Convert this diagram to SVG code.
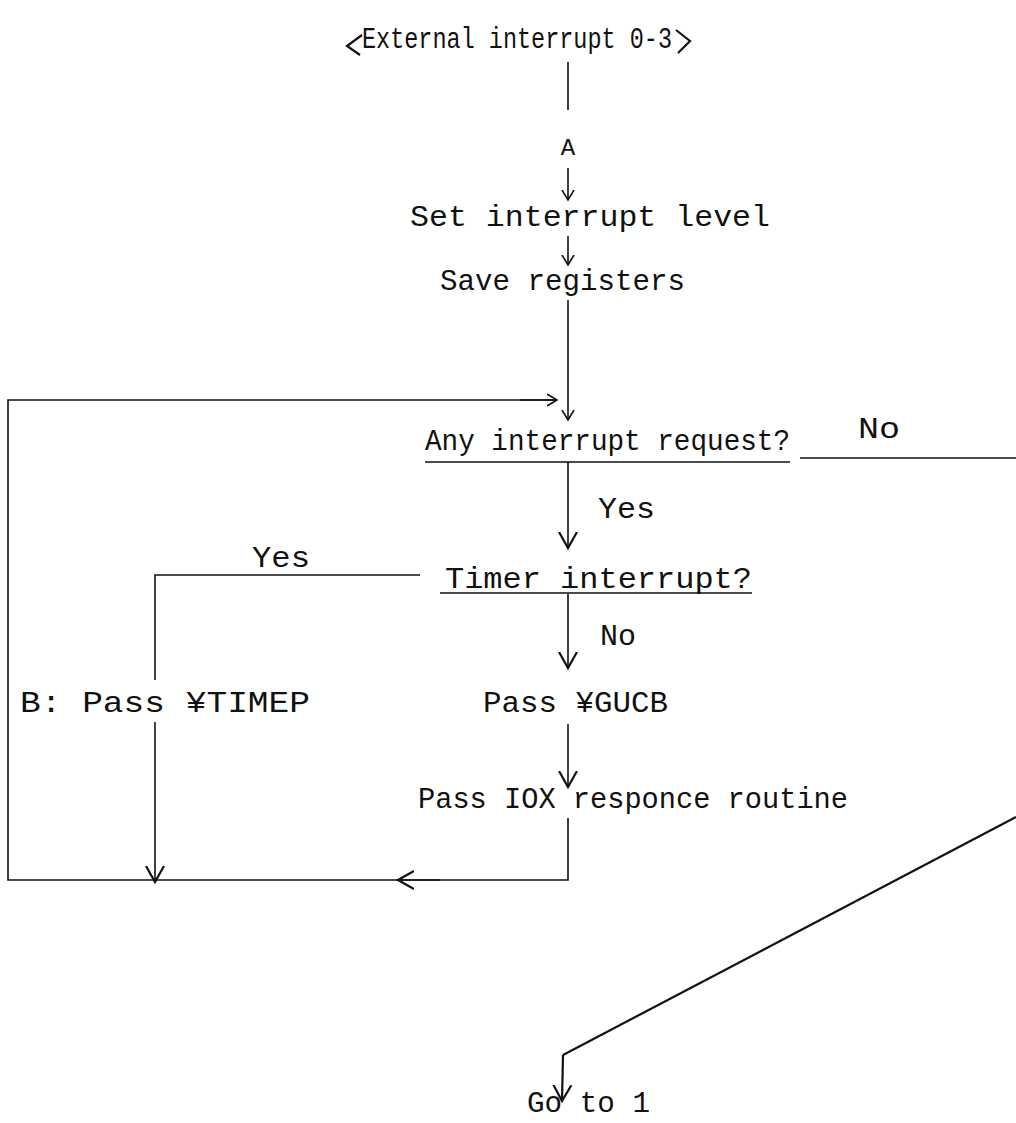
<svg xmlns="http://www.w3.org/2000/svg" width="1016" height="1123" viewBox="0 0 1016 1123">
<style>
text{font-family:"Liberation Mono","Courier New",monospace;font-size:29px;fill:#111}
.ln{fill:none;stroke:#111;stroke-width:1.6}
.th{fill:none;stroke:#111;stroke-width:2.2}
</style>
<defs>
<marker id="vs" markerUnits="userSpaceOnUse" markerWidth="20" markerHeight="20" refX="10" refY="10" orient="auto" viewBox="0 0 20 20">
<path d="M0,4 L10,10 L0,16" fill="none" stroke="#111" stroke-width="1.6"/>
</marker>
<marker id="vl" markerUnits="userSpaceOnUse" markerWidth="24" markerHeight="24" refX="16" refY="12" orient="auto" viewBox="0 0 24 24">
<path d="M0,3 L16,12 L0,21" fill="none" stroke="#111" stroke-width="2.2"/>
</marker>
</defs>
<g id="connectors">
<line class="ln" x1="568" y1="62" x2="568" y2="110"/>
<line class="ln" x1="568" y1="168" x2="568" y2="200" marker-end="url(#vs)"/>
<line class="ln" x1="568" y1="236" x2="568" y2="265" marker-end="url(#vs)"/>
<line class="ln" x1="568" y1="300" x2="568" y2="420" marker-end="url(#vs)"/>
<polyline class="ln" points="555,400 8,400 8,880 568,880 568,818"/>
<line class="ln" x1="520" y1="400" x2="557" y2="400" marker-end="url(#vs)"/>
<line class="ln" x1="568" y1="462" x2="568" y2="548" marker-end="url(#vl)"/>
<line class="ln" x1="800" y1="458" x2="1016" y2="458"/>
<polyline class="ln" points="420,575 155,575 155,680"/>
<line class="ln" x1="568" y1="594" x2="568" y2="668" marker-end="url(#vl)"/>
<line class="ln" x1="568" y1="724" x2="568" y2="787" marker-end="url(#vl)"/>
<line class="ln" x1="155" y1="722" x2="155" y2="882" marker-end="url(#vl)"/>
<line class="ln" x1="440" y1="880" x2="398" y2="880" marker-end="url(#vl)"/>
<polyline class="th" points="1016,817 563,1055"/>
<line class="th" x1="563" y1="1055" x2="562" y2="1101" marker-end="url(#vl)"/>
</g>
<g id="n_start">
<path class="th" d="M362,35 L347,46 L360,55"/>
<text x="362" y="48" textLength="310" lengthAdjust="spacingAndGlyphs">External interrupt 0-3</text>
<path class="th" d="M676,30 L690,41 L678,53"/>
</g>
<g id="n_A"><text x="568" y="155" text-anchor="middle" style="font-size:24px">A</text></g>
<g id="n_setlevel"><text x="410" y="226" textLength="360" lengthAdjust="spacingAndGlyphs">Set interrupt level</text></g>
<g id="n_save"><text x="440" y="290" textLength="245" lengthAdjust="spacingAndGlyphs">Save registers</text></g>
<g id="n_anyreq">
<text x="425" y="450" textLength="365" lengthAdjust="spacingAndGlyphs">Any interrupt request?</text>
<line class="ln" x1="425" y1="462" x2="790" y2="462"/>
</g>
<g id="l_no1"><text x="858" y="438" textLength="42" lengthAdjust="spacingAndGlyphs">No</text></g>
<g id="l_yes1"><text x="598" y="518" textLength="57" lengthAdjust="spacingAndGlyphs">Yes</text></g>
<g id="n_timer">
<text x="445" y="588" textLength="307" lengthAdjust="spacingAndGlyphs">Timer interrupt?</text>
<line class="ln" x1="440" y1="593" x2="752" y2="593"/>
</g>
<g id="l_yes2"><text x="252" y="567" textLength="58" lengthAdjust="spacingAndGlyphs">Yes</text></g>
<g id="l_no2"><text x="600" y="645" textLength="36" lengthAdjust="spacingAndGlyphs">No</text></g>
<g id="n_timep"><text x="20" y="712" textLength="290" lengthAdjust="spacingAndGlyphs">B: Pass ¥TIMEP</text></g>
<g id="n_gucb"><text x="483" y="712" textLength="185" lengthAdjust="spacingAndGlyphs">Pass ¥GUCB</text></g>
<g id="n_iox"><text x="418" y="808" textLength="430" lengthAdjust="spacingAndGlyphs">Pass IOX responce routine</text></g>
<g id="n_goto"><text x="527" y="1112" textLength="123" lengthAdjust="spacingAndGlyphs">Go to 1</text></g>
</svg>
